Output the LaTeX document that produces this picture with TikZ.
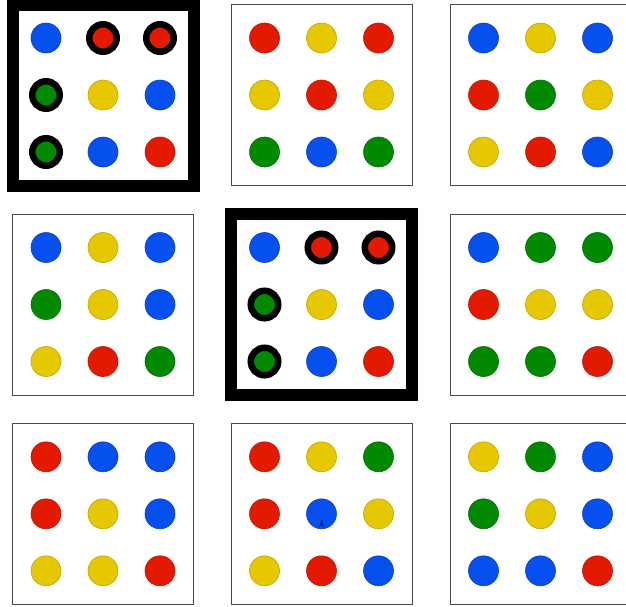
\documentclass[tikz,border=0pt]{standalone}
\definecolor{cblue}{HTML}{0650F0}
\definecolor{cblueD}{HTML}{0A40C8}
\definecolor{cred}{HTML}{E31A00}
\definecolor{credD}{HTML}{C01600}
\definecolor{cyel}{HTML}{E6C800}
\definecolor{cyelD}{HTML}{C2A400}
\definecolor{cgreen}{HTML}{008A00}
\definecolor{cgreenD}{HTML}{006E00}
\definecolor{frame}{HTML}{4A4A4A}
\definecolor{markblue}{HTML}{0A2E9C}
\tikzset{
  dot/.style={circle, inner sep=0pt, minimum size=30pt, line width=0.6pt},
  dotB/.style={dot, fill=cblue, draw=cblueD},
  dotR/.style={dot, fill=cred, draw=credD},
  dotY/.style={dot, fill=cyel, draw=cyelD},
  dotG/.style={dot, fill=cgreen, draw=cgreenD},
  ringR/.style={circle, inner sep=0pt, minimum size=27.5pt, line width=6.5pt, draw=black, fill=cred},
  ringG/.style={circle, inner sep=0pt, minimum size=27.5pt, line width=6.5pt, draw=black, fill=cgreen},
  panelbox/.style={draw=frame, line width=1pt, fill=white},
  chosenbox/.style={draw=black, line width=12pt, fill=white},
}
\newcommand\mypanel[5]{%
  \path[#5] (#1-90.5,#2-90.5) rectangle (#1+90.5,#2+90.5);
  \foreach \st [count=\i from 0] in {#4} {
    \pgfmathtruncatemacro\cc{mod(\i,3)-1}
    \pgfmathtruncatemacro\rr{int(\i/3)-1}
    \node[\st] (#3-\i) at (#1+57*\cc,#2+57*\rr) {};
  }
}
\begin{document}
\begin{tikzpicture}[x=1pt,y=-1pt]
\useasboundingbox (0,0) rectangle (626,606);
\clip (0,0) rectangle (626,606);
\fill[white] (0,0) rectangle (626,606);
% row 1
\mypanel{103}{95}{pa}{dotB,ringR,ringR,ringG,dotY,dotB,ringG,dotB,dotR}{chosenbox}
\mypanel{321.5}{95}{pb}{dotR,dotY,dotR,dotY,dotR,dotY,dotG,dotB,dotG}{panelbox}
\mypanel{540.5}{95}{pc}{dotB,dotY,dotB,dotR,dotG,dotY,dotY,dotR,dotB}{panelbox}
% row 2
\mypanel{103}{304.5}{pd}{dotB,dotY,dotB,dotG,dotY,dotB,dotY,dotR,dotG}{panelbox}
\mypanel{321.5}{304.5}{pe}{dotB,ringR,ringR,ringG,dotY,dotB,ringG,dotB,dotR}{chosenbox}
\mypanel{540.5}{304.5}{pf}{dotB,dotG,dotG,dotR,dotY,dotY,dotG,dotG,dotR}{panelbox}
% row 3
\mypanel{103}{513.8}{pg}{dotR,dotB,dotB,dotR,dotY,dotB,dotY,dotY,dotR}{panelbox}
\mypanel{321.5}{513.8}{ph}{dotR,dotY,dotG,dotR,dotB,dotY,dotY,dotR,dotB}{panelbox}
\mypanel{540.5}{513.8}{pi}{dotY,dotG,dotB,dotG,dotY,dotB,dotB,dotB,dotR}{panelbox}
% small mark
\fill[markblue] ([xshift=-2.6pt,yshift=-13.5pt]ph-4.center) -- ([yshift=-5.5pt]ph-4.center)
  -- ([xshift=2.6pt,yshift=-13.5pt]ph-4.center) -- ([yshift=-12pt]ph-4.center) -- cycle;
\end{tikzpicture}
\end{document}
